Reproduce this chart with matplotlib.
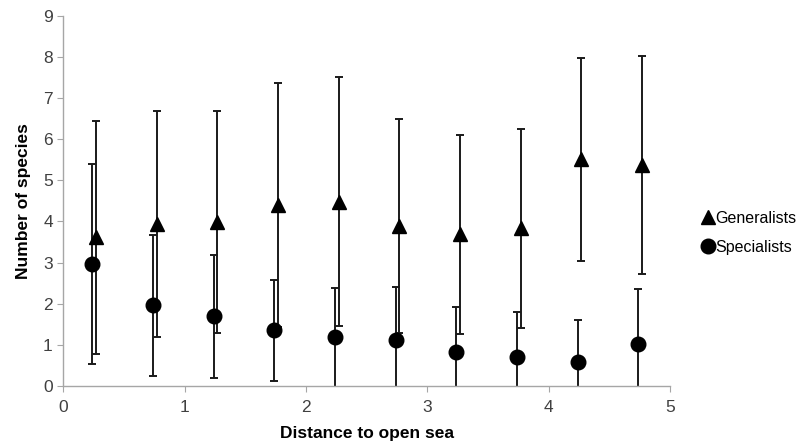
import numpy as np
import matplotlib.pyplot as plt

# data
gen_x = [0.27, 0.77, 1.27, 1.77, 2.27, 2.77, 3.27, 3.77, 4.27, 4.77]
gen_mean = [3.61, 3.94, 3.98, 4.40, 4.48, 3.89, 3.69, 3.83, 5.51, 5.37]
gen_err = [2.82, 2.74, 2.70, 2.97, 3.02, 2.59, 2.42, 2.42, 2.47, 2.65]

spec_x = [0.24, 0.74, 1.24, 1.74, 2.24, 2.74, 3.24, 3.74, 4.24, 4.74]
spec_mean = [2.96, 1.96, 1.69, 1.35, 1.18, 1.12, 0.82, 0.70, 0.59, 1.02]
spec_err = [2.43, 1.72, 1.50, 1.22, 1.20, 1.29, 1.11, 1.10, 1.01, 1.33]

plt.rcParams['font.family'] = ['Liberation Sans', 'DejaVu Sans']

fig = plt.figure(figsize=(8.09, 4.46), dpi=100)
ax = fig.add_axes([0.0782, 0.1345, 0.7498, 0.8303])

ax.errorbar(gen_x, gen_mean, yerr=gen_err, fmt='^', color='black', ecolor='#1a1a1a',
            markersize=10, elinewidth=1.4, capsize=3, capthick=1.4, label='Generalists')
ax.errorbar(spec_x, spec_mean, yerr=spec_err, fmt='o', color='black', ecolor='#1a1a1a',
            markersize=10.5, elinewidth=1.4, capsize=3, capthick=1.4, label='Specialists')

ax.set_xlim(0, 5)
ax.set_ylim(0, 9)
ax.set_xticks(range(0, 6))
ax.set_yticks(range(0, 10))

for s in ['top', 'right']:
    ax.spines[s].set_visible(False)
for s in ['left', 'bottom']:
    ax.spines[s].set_color('#a6a6a6')
    ax.spines[s].set_linewidth(1)
ax.tick_params(colors='#a6a6a6', labelcolor='#404040', length=4, labelsize=12.5)
ax.tick_params(axis='x', pad=6)

ax.set_xlabel('Distance to open sea', fontsize=12.5, fontweight='bold', labelpad=8)
ax.set_ylabel('Number of species', fontsize=12.5, fontweight='bold', labelpad=9)

handles, labels = ax.get_legend_handles_labels()
handles = [h[0] for h in handles]
fig.legend(handles, labels, loc='center left', bbox_to_anchor=(0.858, 0.478),
           frameon=False, fontsize=11.5, handletextpad=0.0, handlelength=0.9,
           labelspacing=0.85, borderaxespad=0)

fig.savefig('out.png', dpi=100)
